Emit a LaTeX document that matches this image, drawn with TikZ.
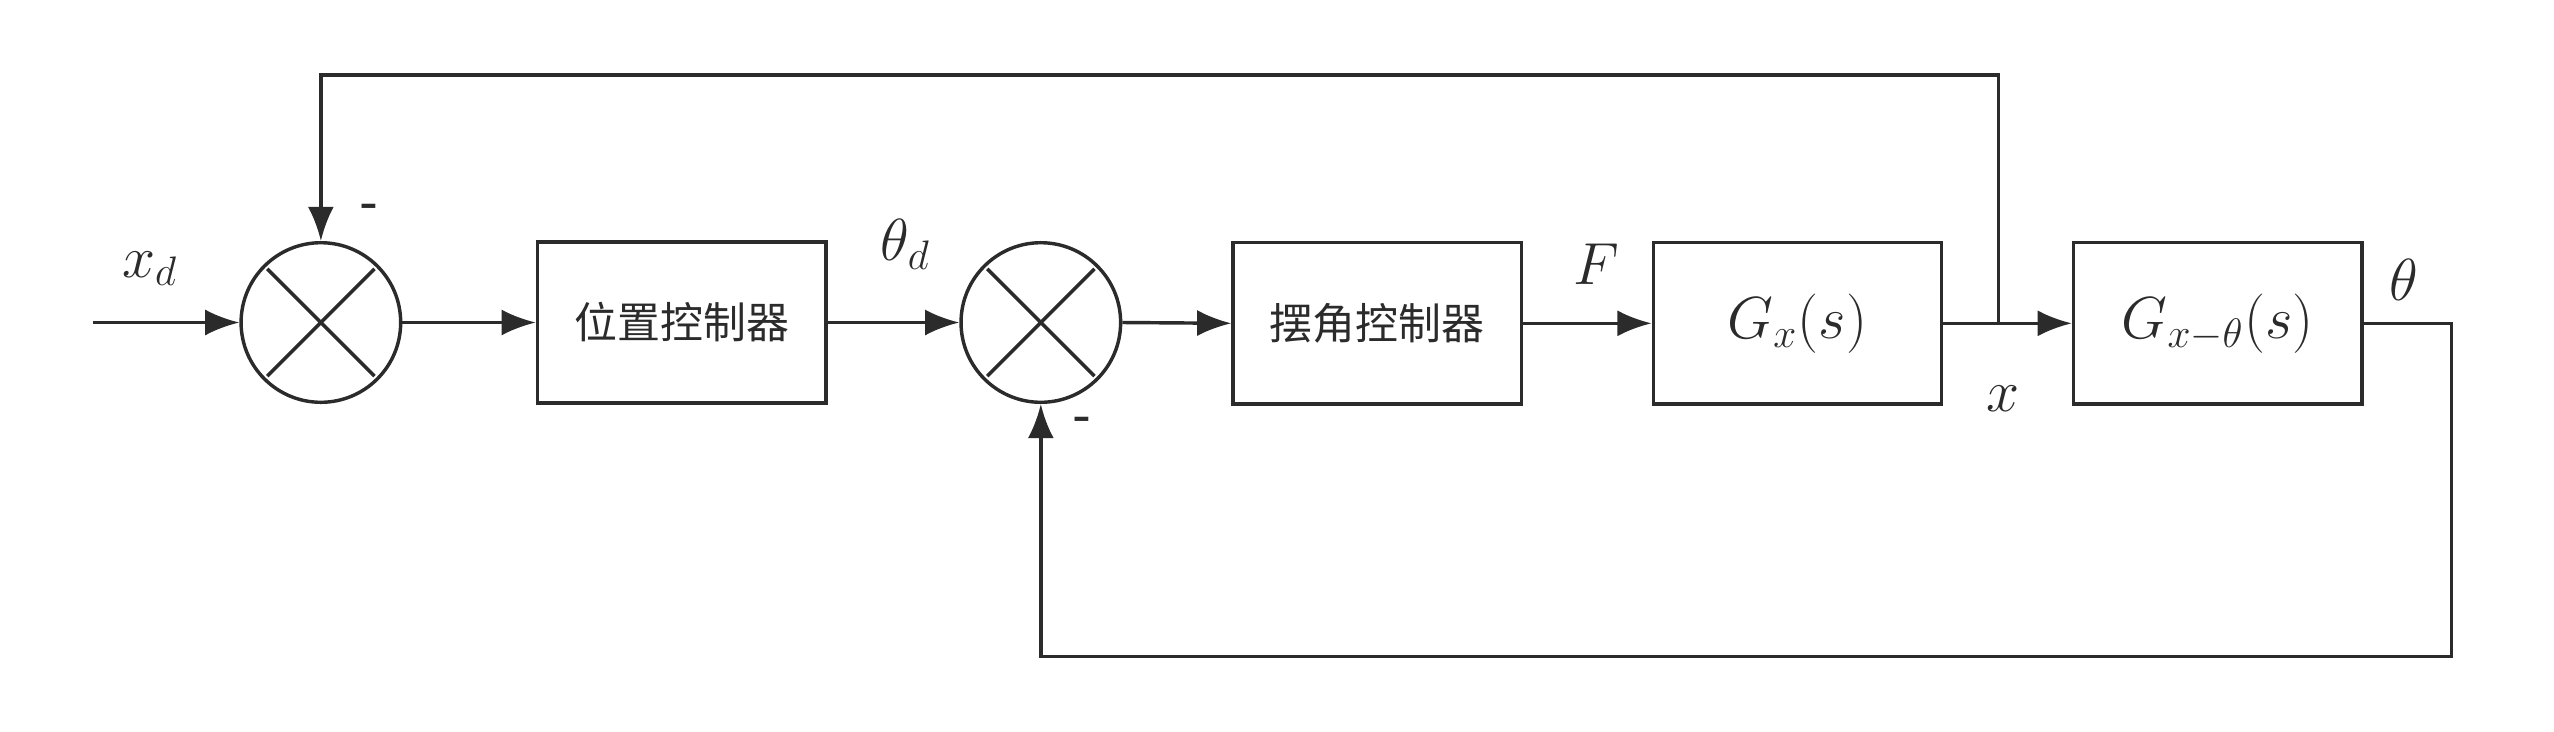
\documentclass[tikz,border=0pt]{standalone}
\usepackage{fontspec}
\newfontfamily\cjk{Noto Sans CJK SC}
\usetikzlibrary{arrows.meta}
\definecolor{ln}{HTML}{2B2B2B}
\begin{document}
\begin{tikzpicture}[x=0.02cm,y=-0.02cm,
  line width=0.9pt, draw=ln,
  sum/.style={circle,draw=ln,line width=1.2pt,minimum size=1.96cm,inner sep=0pt},
  blk/.style={rectangle,draw=ln,line width=1.2pt,minimum width=3.54cm,minimum height=1.98cm,inner sep=0pt},
  arr/.style={draw=ln,line width=1.2pt,-{Latex[length=0.42cm,width=0.32cm]}},
  lbl/.style={font=\fontsize{20}{24}\selectfont,text=ln},
  cn/.style={font=\cjk\fontsize{15}{18}\selectfont,text=ln}]
\useasboundingbox (0,0) rectangle (1568,449);
\node[sum] (s1) at (197,198) {};
\node[sum] (s2) at (639,198) {};
\node[blk,cn] (b1) at (418.5,198) {位置控制器};
\node[blk,cn] (b2) at (845.5,198.5) {摆角控制器};
\node[blk,lbl] (b3) at (1103.5,198.5) {$G_x(s)$};
\node[blk,lbl] (b4) at (1361.5,198.5) {$G_{x-\theta}(s)$};
\foreach \s in {s1,s2}{
  \draw[line width=1.2pt,shorten <=2pt,shorten >=2pt] (\s.north west) -- (\s.south east);
  \draw[line width=1.2pt,shorten <=2pt,shorten >=2pt] (\s.north east) -- (\s.south west);}
\coordinate (in) at (57,198);
\coordinate (tap) at (1227,198.5);
\coordinate (top) at (1227,46);
\coordinate (br) at (1505,403);
\draw[arr] (in) -- (s1.west);
\draw[arr] (s1.east) -- (b1.west);
\draw[arr] (b1.east) -- (s2.west);
\draw[arr] (s2.east) -- (b2.west);
\draw[arr] (b2.east) -- (b3.west);
\draw[arr] (b3.east) -- (b4.west);
\draw[arr] (tap) -- (top) -| (s1.north);
\draw[arr] (b4.east) -| (br) -| (s2.south);
\node[lbl] (lxd) at (92,165) {$x_d$};
\node[lbl] (lthd) at (556,150) {$\theta_d$};
\node[lbl] (lF) at (980,162) {$F$};
\node[lbl] (lx) at (1230,245) {$x$};
\node[lbl] (lth) at (1476,172) {$\theta$};
\node[font=\bfseries\fontsize{16}{18}\selectfont,text=ln] (m1) at (227,129) {-};
\node[font=\bfseries\fontsize{16}{18}\selectfont,text=ln] (m2) at (665,260) {-};
\end{tikzpicture}
\end{document}
